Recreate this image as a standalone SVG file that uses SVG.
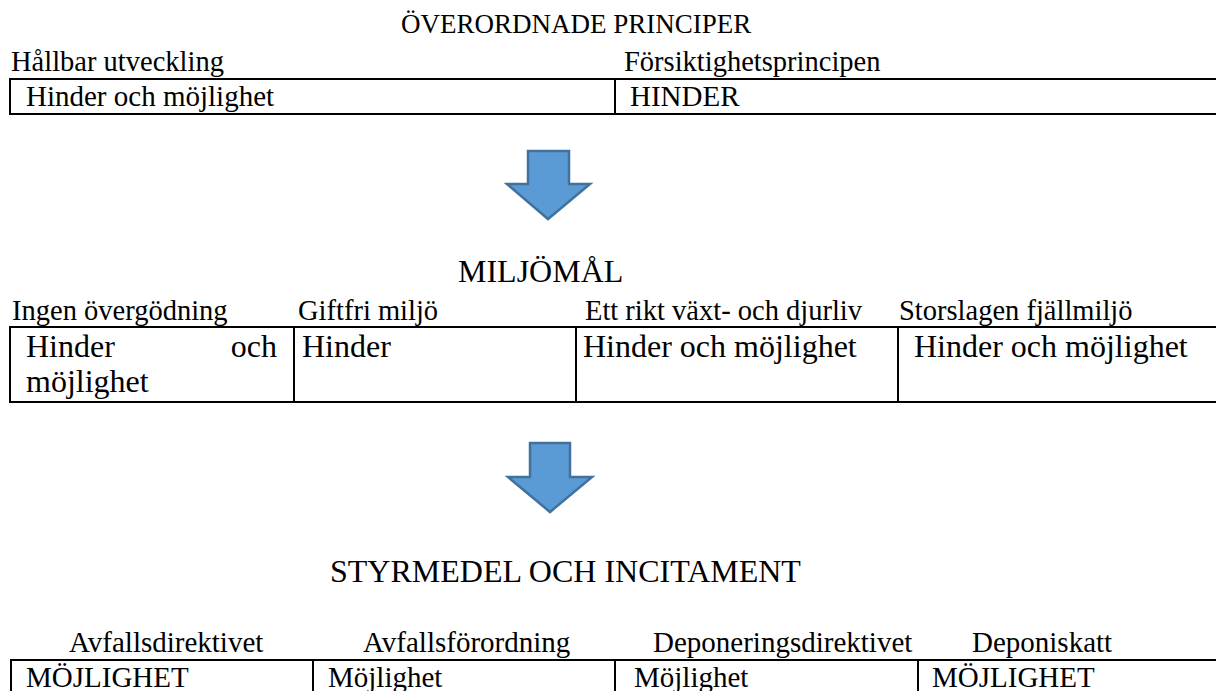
<svg xmlns="http://www.w3.org/2000/svg" width="1216" height="691" viewBox="0 0 1216 691" font-family="'Liberation Serif', Tinos, 'Times New Roman', 'DejaVu Serif', serif">
<style>
text { font-family: 'Liberation Serif', Tinos, 'Times New Roman', 'DejaVu Serif', serif; fill: #000; }
.t1 { font-size: 27px; }
.h { font-size: 32px; }
.lab { font-size: 28.5px; }
.cell { font-size: 29px; }
.cell2 { font-size: 32px; }
.grid { fill: none; stroke: #000; stroke-width: 2; }
.arrow { fill: #5B9BD5; stroke: #41719C; stroke-width: 2.5; }
</style>
<rect width="1216" height="691" fill="#fff"/>

<g id="section-principer">
  <text class="t1" x="401" y="33">ÖVERORDNADE PRINCIPER</text>
  <g id="hallbar">
    <text class="lab" x="11" y="71">Hållbar utveckling</text>
    <rect class="grid" x="10" y="79" width="605" height="35"/>
    <text class="cell" x="26" y="106">Hinder och möjlighet</text>
  </g>
  <g id="forsiktighet">
    <text class="lab" x="624" y="71">Försiktighetsprincipen</text>
    <rect class="grid" x="615" y="79" width="610" height="35"/>
    <text class="cell" x="630" y="106">HINDER</text>
  </g>
</g>

<g id="section-miljomal">
  <text class="h" x="458" y="282">MILJÖMÅL</text>
  <g id="overgodning">
    <text class="lab" x="12" y="320">Ingen övergödning</text>
    <rect class="grid" x="10" y="327" width="284" height="75"/>
    <text class="cell2" x="26" y="357">Hinder</text>
    <text class="cell2" x="277" y="357" text-anchor="end">och</text>
    <text class="cell2" x="26" y="392">möjlighet</text>
  </g>
  <g id="giftfri">
    <text class="lab" x="298" y="320">Giftfri miljö</text>
    <rect class="grid" x="294" y="327" width="282" height="75"/>
    <text class="cell2" x="302" y="357">Hinder</text>
  </g>
  <g id="vaxtdjurliv">
    <text class="lab" x="585" y="320">Ett rikt växt- och djurliv</text>
    <rect class="grid" x="576" y="327" width="322" height="75"/>
    <text class="cell2" x="583" y="357">Hinder och möjlighet</text>
  </g>
  <g id="fjallmiljo">
    <text class="lab" x="899" y="320">Storslagen fjällmiljö</text>
    <rect class="grid" x="898" y="327" width="330" height="75"/>
    <text class="cell2" x="914" y="357">Hinder och möjlighet</text>
  </g>
</g>

<g id="section-styrmedel">
  <text class="h" x="330" y="582">STYRMEDEL OCH INCITAMENT</text>
  <g id="avfallsdirektivet">
    <text class="cell" x="69" y="652">Avfallsdirektivet</text>
    <rect class="grid" x="11" y="660" width="302" height="60"/>
    <text class="cell" x="26" y="687">MÖJLIGHET</text>
  </g>
  <g id="avfallsforordning">
    <text class="cell" x="363" y="652">Avfallsförordning</text>
    <rect class="grid" x="313" y="660" width="302" height="60"/>
    <text class="cell" x="328" y="687">Möjlighet</text>
  </g>
  <g id="deponeringsdirektivet">
    <text class="cell" x="653" y="652">Deponeringsdirektivet</text>
    <rect class="grid" x="615" y="660" width="303" height="60"/>
    <text class="cell" x="634" y="687">Möjlighet</text>
  </g>
  <g id="deponiskatt">
    <text class="cell" x="972" y="652">Deponiskatt</text>
    <rect class="grid" x="918" y="660" width="310" height="60"/>
    <text class="cell" x="932" y="687">MÖJLIGHET</text>
  </g>
</g>

<g id="connectors">
  <polygon class="arrow" points="528,151 569,151 569,184 590,184 548,219 507,184 528,184"/>
  <polygon class="arrow" points="530,443 570,443 570,477 592,477 550,512 508,477 530,477"/>
</g>
</svg>
